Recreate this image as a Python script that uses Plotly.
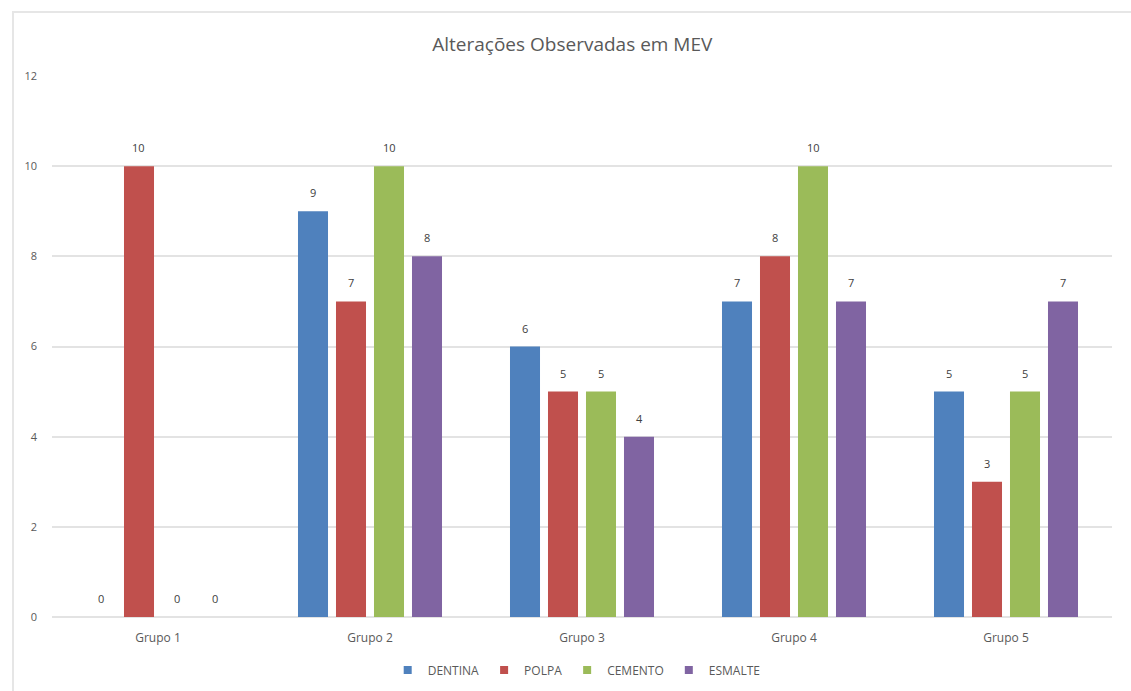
import plotly.graph_objects as go

categories = ["Grupo 1", "Grupo 2", "Grupo 3", "Grupo 4", "Grupo 5"]
dentina = [0, 9, 6, 7, 5]
polpa = [10, 7, 5, 8, 3]
cemento = [0, 10, 5, 10, 5]
esmalte = [0, 8, 4, 7, 7]

series = [
    ("DENTINA", dentina, "#4F81BD"),
    ("POLPA", polpa, "#C0504D"),
    ("CEMENTO", cemento, "#9BBB59"),
    ("ESMALTE", esmalte, "#8064A2"),
]

font_family = "Open Sans, Liberation Sans, sans-serif"

W, H = 1131, 691
ML, MR, MT, MB = 52, 19, 76, 74
plot_w = W - ML - MR
plot_h = H - MT - MB
bargap = 0.283
cat_px = plot_w / len(categories)
slot_px = cat_px * (1 - bargap) / len(series)

fig = go.Figure()
annotations = []
for i, (name, vals, color) in enumerate(series):
    fig.add_trace(go.Bar(
        x=categories, y=vals, name=name, showlegend=False,
        marker=dict(color=color, line=dict(width=0)),
    ))
    fig.add_trace(go.Scatter(
        x=[None], y=[None], mode="markers", name=name,
        marker=dict(symbol="square", size=8, color=color),
    ))
    shift = (i - (len(series) - 1) / 2) * slot_px
    for c, v in zip(categories, vals):
        annotations.append(dict(
            x=c, y=v, xref="x", yref="y", text=str(v), showarrow=False,
            xshift=shift, yshift=9, yanchor="bottom",
            font=dict(size=11, color="#404040", family=font_family),
        ))

fig.update_layout(
    width=W, height=H,
    margin=dict(l=ML, r=MR, t=MT, b=MB, autoexpand=False),
    paper_bgcolor="white", plot_bgcolor="white",
    barmode="group", bargap=bargap, bargroupgap=0.21,
    title=dict(text="Alterações Observadas em MEV", x=0.506, xanchor="center",
               y=1 - 44 / H, yanchor="middle",
               font=dict(size=19, color="#595959", family=font_family)),
    font=dict(family=font_family, color="#595959"),
    showlegend=True,
    legend=dict(orientation="h", x=0.495, xanchor="center", y=-53 / plot_h, yanchor="middle",
                font=dict(size=12, color="#595959"), itemwidth=30,
                traceorder="normal"),
    annotations=annotations,
    xaxis=dict(showgrid=False, showline=False, ticks="", ticklabelstandoff=12,
               tickfont=dict(size=12, color="#595959")),
    yaxis=dict(range=[0, 12], dtick=2, showgrid=True, gridcolor="#E3E3E3", gridwidth=2,
               zeroline=True, zerolinecolor="#E3E3E3", zerolinewidth=2,
               ticks="", ticklabelstandoff=14, tickfont=dict(size=11, color="#595959")),
    shapes=[dict(type="rect", xref="paper", yref="paper",
                 x0=-39 / plot_w, x1=1.2, y0=-0.3, y1=1 + 64 / plot_h,
                 line=dict(color="#E6E6E6", width=2), layer="below")],
)

fig.write_html("out.html")
